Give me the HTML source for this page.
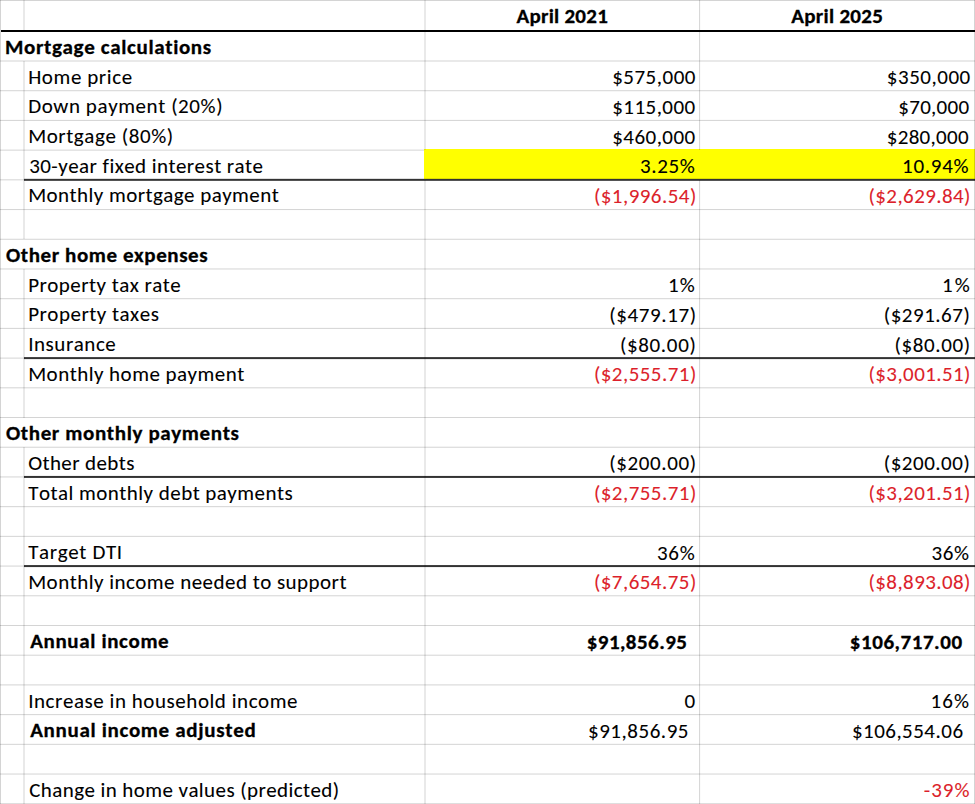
<!DOCTYPE html>
<html><head><meta charset="utf-8"><title>Mortgage calculations</title>
<style>
html,body{margin:0;padding:0;background:#fff;}
body{width:975px;height:804px;overflow:hidden;position:relative;font-family:"Carlito","Liberation Sans",sans-serif;font-size:21.00px;color:#000;}
.h{position:absolute;left:0;width:975px;height:1px;background:#d8d8d8;}
.v{position:absolute;width:1px;background:#d8d8d8;}
.b{position:absolute;height:1px;background:#1a1a1a;}
.t{position:absolute;white-space:nowrap;line-height:normal;font-variant-ligatures:none;font-kerning:none;-webkit-text-stroke:0.08px currentColor;}
.bd{font-weight:bold;-webkit-text-stroke:0.3px currentColor;}
.red{color:#dc1f2b;}
.y{position:absolute;background:#ffff00;}
</style></head><body>
<div class="y" style="left:424px;top:149px;width:551px;height:30px"></div>
<div style="position:absolute;left:0px;top:60px;width:975px;height:1px;background:rgba(0,0,0,0.085)"></div>
<div style="position:absolute;left:0px;top:61px;width:975px;height:1px;background:rgba(0,0,0,0.085)"></div>
<div style="position:absolute;left:0px;top:90px;width:975px;height:1px;background:rgba(0,0,0,0.134)"></div>
<div style="position:absolute;left:0px;top:91px;width:975px;height:1px;background:rgba(0,0,0,0.036)"></div>
<div style="position:absolute;left:0px;top:119px;width:975px;height:1px;background:rgba(0,0,0,0.014)"></div>
<div style="position:absolute;left:0px;top:120px;width:975px;height:1px;background:rgba(0,0,0,0.156)"></div>
<div style="position:absolute;left:0px;top:149px;width:424px;height:1px;background:rgba(0,0,0,0.063)"></div>
<div style="position:absolute;left:0px;top:150px;width:424px;height:1px;background:rgba(0,0,0,0.107)"></div>
<div style="position:absolute;left:0px;top:209px;width:975px;height:1px;background:rgba(0,0,0,0.161)"></div>
<div style="position:absolute;left:0px;top:210px;width:975px;height:1px;background:rgba(0,0,0,0.009)"></div>
<div style="position:absolute;left:0px;top:238px;width:975px;height:1px;background:rgba(0,0,0,0.041)"></div>
<div style="position:absolute;left:0px;top:239px;width:975px;height:1px;background:rgba(0,0,0,0.129)"></div>
<div style="position:absolute;left:0px;top:268px;width:975px;height:1px;background:rgba(0,0,0,0.090)"></div>
<div style="position:absolute;left:0px;top:269px;width:975px;height:1px;background:rgba(0,0,0,0.080)"></div>
<div style="position:absolute;left:0px;top:298px;width:975px;height:1px;background:rgba(0,0,0,0.139)"></div>
<div style="position:absolute;left:0px;top:299px;width:975px;height:1px;background:rgba(0,0,0,0.031)"></div>
<div style="position:absolute;left:0px;top:327px;width:975px;height:1px;background:rgba(0,0,0,0.019)"></div>
<div style="position:absolute;left:0px;top:328px;width:975px;height:1px;background:rgba(0,0,0,0.151)"></div>
<div style="position:absolute;left:0px;top:387px;width:975px;height:1px;background:rgba(0,0,0,0.117)"></div>
<div style="position:absolute;left:0px;top:388px;width:975px;height:1px;background:rgba(0,0,0,0.053)"></div>
<div style="position:absolute;left:0px;top:417px;width:975px;height:1px;background:rgba(0,0,0,0.167)"></div>
<div style="position:absolute;left:0px;top:446px;width:975px;height:1px;background:rgba(0,0,0,0.046)"></div>
<div style="position:absolute;left:0px;top:447px;width:975px;height:1px;background:rgba(0,0,0,0.124)"></div>
<div style="position:absolute;left:0px;top:506px;width:975px;height:1px;background:rgba(0,0,0,0.144)"></div>
<div style="position:absolute;left:0px;top:507px;width:975px;height:1px;background:rgba(0,0,0,0.026)"></div>
<div style="position:absolute;left:0px;top:535px;width:975px;height:1px;background:rgba(0,0,0,0.024)"></div>
<div style="position:absolute;left:0px;top:536px;width:975px;height:1px;background:rgba(0,0,0,0.146)"></div>
<div style="position:absolute;left:0px;top:595px;width:975px;height:1px;background:rgba(0,0,0,0.122)"></div>
<div style="position:absolute;left:0px;top:596px;width:975px;height:1px;background:rgba(0,0,0,0.048)"></div>
<div style="position:absolute;left:0px;top:625px;width:975px;height:1px;background:rgba(0,0,0,0.168)"></div>
<div style="position:absolute;left:0px;top:654px;width:975px;height:1px;background:rgba(0,0,0,0.051)"></div>
<div style="position:absolute;left:0px;top:655px;width:975px;height:1px;background:rgba(0,0,0,0.119)"></div>
<div style="position:absolute;left:0px;top:684px;width:975px;height:1px;background:rgba(0,0,0,0.100)"></div>
<div style="position:absolute;left:0px;top:685px;width:975px;height:1px;background:rgba(0,0,0,0.070)"></div>
<div style="position:absolute;left:0px;top:714px;width:975px;height:1px;background:rgba(0,0,0,0.150)"></div>
<div style="position:absolute;left:0px;top:715px;width:975px;height:1px;background:rgba(0,0,0,0.020)"></div>
<div style="position:absolute;left:0px;top:743px;width:975px;height:1px;background:rgba(0,0,0,0.029)"></div>
<div style="position:absolute;left:0px;top:744px;width:975px;height:1px;background:rgba(0,0,0,0.141)"></div>
<div style="position:absolute;left:0px;top:773px;width:975px;height:1px;background:rgba(0,0,0,0.078)"></div>
<div style="position:absolute;left:0px;top:774px;width:975px;height:1px;background:rgba(0,0,0,0.092)"></div>
<div style="position:absolute;left:0px;top:803px;width:975px;height:1px;background:rgba(0,0,0,0.128)"></div>
<div style="position:absolute;left:0px;top:804px;width:975px;height:1px;background:rgba(0,0,0,0.043)"></div>
<div style="position:absolute;left:0px;top:0px;width:975px;height:1px;background:rgba(0,0,0,0.170)"></div>
<div style="position:absolute;left:0px;top:476px;width:24px;height:1px;background:rgba(0,0,0,0.095)"></div>
<div style="position:absolute;left:0px;top:477px;width:24px;height:1px;background:rgba(0,0,0,0.075)"></div>
<div style="position:absolute;left:24px;top:475px;width:951px;height:1px;background:rgba(0,0,0,0.048)"></div>
<div style="position:absolute;left:24px;top:476px;width:951px;height:1px;background:rgba(0,0,0,0.800)"></div>
<div style="position:absolute;left:24px;top:477px;width:951px;height:1px;background:rgba(0,0,0,0.752)"></div>
<div style="position:absolute;left:0px;top:565px;width:24px;height:1px;background:rgba(0,0,0,0.073)"></div>
<div style="position:absolute;left:0px;top:566px;width:24px;height:1px;background:rgba(0,0,0,0.097)"></div>
<div style="position:absolute;left:24px;top:565px;width:951px;height:1px;background:rgba(0,0,0,0.744)"></div>
<div style="position:absolute;left:24px;top:566px;width:951px;height:1px;background:rgba(0,0,0,0.800)"></div>
<div style="position:absolute;left:24px;top:567px;width:951px;height:1px;background:rgba(0,0,0,0.056)"></div>
<div style="position:absolute;left:0px;top:357px;width:24px;height:1px;background:rgba(0,0,0,0.068)"></div>
<div style="position:absolute;left:0px;top:358px;width:24px;height:1px;background:rgba(0,0,0,0.102)"></div>
<div style="position:absolute;left:24px;top:357px;width:951px;height:1px;background:rgba(0,0,0,0.720)"></div>
<div style="position:absolute;left:24px;top:358px;width:951px;height:1px;background:rgba(0,0,0,0.800)"></div>
<div style="position:absolute;left:24px;top:359px;width:951px;height:1px;background:rgba(0,0,0,0.080)"></div>
<div style="position:absolute;left:0px;top:179px;width:24px;height:1px;background:rgba(0,0,0,0.112)"></div>
<div style="position:absolute;left:0px;top:180px;width:24px;height:1px;background:rgba(0,0,0,0.058)"></div>
<div style="position:absolute;left:24px;top:178px;width:951px;height:1px;background:rgba(0,0,0,0.128)"></div>
<div style="position:absolute;left:24px;top:179px;width:951px;height:1px;background:rgba(0,0,0,0.800)"></div>
<div style="position:absolute;left:24px;top:180px;width:951px;height:1px;background:rgba(0,0,0,0.672)"></div>
<div style="position:absolute;left:0px;top:0px;width:1px;height:804px;background:rgba(0,0,0,0.170)"></div>
<div style="position:absolute;left:974px;top:0px;width:1px;height:804px;background:rgba(0,0,0,0.170)"></div>
<div style="position:absolute;left:23px;top:0px;width:1px;height:30px;background:rgba(0,0,0,0.085)"></div>
<div style="position:absolute;left:24px;top:0px;width:1px;height:30px;background:rgba(0,0,0,0.085)"></div>
<div style="position:absolute;left:424px;top:0px;width:1px;height:30px;background:rgba(0,0,0,0.085)"></div>
<div style="position:absolute;left:425px;top:0px;width:1px;height:30px;background:rgba(0,0,0,0.085)"></div>
<div style="position:absolute;left:699px;top:0px;width:1px;height:30px;background:rgba(0,0,0,0.153)"></div>
<div style="position:absolute;left:700px;top:0px;width:1px;height:30px;background:rgba(0,0,0,0.017)"></div>
<div style="position:absolute;left:424px;top:32px;width:1px;height:29px;background:rgba(0,0,0,0.085)"></div>
<div style="position:absolute;left:425px;top:32px;width:1px;height:29px;background:rgba(0,0,0,0.085)"></div>
<div style="position:absolute;left:699px;top:32px;width:1px;height:29px;background:rgba(0,0,0,0.153)"></div>
<div style="position:absolute;left:700px;top:32px;width:1px;height:29px;background:rgba(0,0,0,0.017)"></div>
<div style="position:absolute;left:23px;top:61px;width:1px;height:30px;background:rgba(0,0,0,0.085)"></div>
<div style="position:absolute;left:24px;top:61px;width:1px;height:30px;background:rgba(0,0,0,0.085)"></div>
<div style="position:absolute;left:424px;top:61px;width:1px;height:30px;background:rgba(0,0,0,0.085)"></div>
<div style="position:absolute;left:425px;top:61px;width:1px;height:30px;background:rgba(0,0,0,0.085)"></div>
<div style="position:absolute;left:699px;top:61px;width:1px;height:30px;background:rgba(0,0,0,0.153)"></div>
<div style="position:absolute;left:700px;top:61px;width:1px;height:30px;background:rgba(0,0,0,0.017)"></div>
<div style="position:absolute;left:23px;top:91px;width:1px;height:29px;background:rgba(0,0,0,0.085)"></div>
<div style="position:absolute;left:24px;top:91px;width:1px;height:29px;background:rgba(0,0,0,0.085)"></div>
<div style="position:absolute;left:424px;top:91px;width:1px;height:29px;background:rgba(0,0,0,0.085)"></div>
<div style="position:absolute;left:425px;top:91px;width:1px;height:29px;background:rgba(0,0,0,0.085)"></div>
<div style="position:absolute;left:699px;top:91px;width:1px;height:29px;background:rgba(0,0,0,0.153)"></div>
<div style="position:absolute;left:700px;top:91px;width:1px;height:29px;background:rgba(0,0,0,0.017)"></div>
<div style="position:absolute;left:23px;top:120px;width:1px;height:30px;background:rgba(0,0,0,0.085)"></div>
<div style="position:absolute;left:24px;top:120px;width:1px;height:30px;background:rgba(0,0,0,0.085)"></div>
<div style="position:absolute;left:424px;top:120px;width:1px;height:30px;background:rgba(0,0,0,0.085)"></div>
<div style="position:absolute;left:425px;top:120px;width:1px;height:30px;background:rgba(0,0,0,0.085)"></div>
<div style="position:absolute;left:699px;top:120px;width:1px;height:30px;background:rgba(0,0,0,0.153)"></div>
<div style="position:absolute;left:700px;top:120px;width:1px;height:30px;background:rgba(0,0,0,0.017)"></div>
<div style="position:absolute;left:23px;top:150px;width:1px;height:30px;background:rgba(0,0,0,0.085)"></div>
<div style="position:absolute;left:24px;top:150px;width:1px;height:30px;background:rgba(0,0,0,0.085)"></div>
<div style="position:absolute;left:23px;top:180px;width:1px;height:30px;background:rgba(0,0,0,0.085)"></div>
<div style="position:absolute;left:24px;top:180px;width:1px;height:30px;background:rgba(0,0,0,0.085)"></div>
<div style="position:absolute;left:424px;top:180px;width:1px;height:30px;background:rgba(0,0,0,0.085)"></div>
<div style="position:absolute;left:425px;top:180px;width:1px;height:30px;background:rgba(0,0,0,0.085)"></div>
<div style="position:absolute;left:699px;top:180px;width:1px;height:30px;background:rgba(0,0,0,0.153)"></div>
<div style="position:absolute;left:700px;top:180px;width:1px;height:30px;background:rgba(0,0,0,0.017)"></div>
<div style="position:absolute;left:23px;top:210px;width:1px;height:29px;background:rgba(0,0,0,0.085)"></div>
<div style="position:absolute;left:24px;top:210px;width:1px;height:29px;background:rgba(0,0,0,0.085)"></div>
<div style="position:absolute;left:424px;top:210px;width:1px;height:29px;background:rgba(0,0,0,0.085)"></div>
<div style="position:absolute;left:425px;top:210px;width:1px;height:29px;background:rgba(0,0,0,0.085)"></div>
<div style="position:absolute;left:699px;top:210px;width:1px;height:29px;background:rgba(0,0,0,0.153)"></div>
<div style="position:absolute;left:700px;top:210px;width:1px;height:29px;background:rgba(0,0,0,0.017)"></div>
<div style="position:absolute;left:424px;top:239px;width:1px;height:30px;background:rgba(0,0,0,0.085)"></div>
<div style="position:absolute;left:425px;top:239px;width:1px;height:30px;background:rgba(0,0,0,0.085)"></div>
<div style="position:absolute;left:699px;top:239px;width:1px;height:30px;background:rgba(0,0,0,0.153)"></div>
<div style="position:absolute;left:700px;top:239px;width:1px;height:30px;background:rgba(0,0,0,0.017)"></div>
<div style="position:absolute;left:23px;top:269px;width:1px;height:30px;background:rgba(0,0,0,0.085)"></div>
<div style="position:absolute;left:24px;top:269px;width:1px;height:30px;background:rgba(0,0,0,0.085)"></div>
<div style="position:absolute;left:424px;top:269px;width:1px;height:30px;background:rgba(0,0,0,0.085)"></div>
<div style="position:absolute;left:425px;top:269px;width:1px;height:30px;background:rgba(0,0,0,0.085)"></div>
<div style="position:absolute;left:699px;top:269px;width:1px;height:30px;background:rgba(0,0,0,0.153)"></div>
<div style="position:absolute;left:700px;top:269px;width:1px;height:30px;background:rgba(0,0,0,0.017)"></div>
<div style="position:absolute;left:23px;top:299px;width:1px;height:29px;background:rgba(0,0,0,0.085)"></div>
<div style="position:absolute;left:24px;top:299px;width:1px;height:29px;background:rgba(0,0,0,0.085)"></div>
<div style="position:absolute;left:424px;top:299px;width:1px;height:29px;background:rgba(0,0,0,0.085)"></div>
<div style="position:absolute;left:425px;top:299px;width:1px;height:29px;background:rgba(0,0,0,0.085)"></div>
<div style="position:absolute;left:699px;top:299px;width:1px;height:29px;background:rgba(0,0,0,0.153)"></div>
<div style="position:absolute;left:700px;top:299px;width:1px;height:29px;background:rgba(0,0,0,0.017)"></div>
<div style="position:absolute;left:23px;top:328px;width:1px;height:30px;background:rgba(0,0,0,0.085)"></div>
<div style="position:absolute;left:24px;top:328px;width:1px;height:30px;background:rgba(0,0,0,0.085)"></div>
<div style="position:absolute;left:424px;top:328px;width:1px;height:30px;background:rgba(0,0,0,0.085)"></div>
<div style="position:absolute;left:425px;top:328px;width:1px;height:30px;background:rgba(0,0,0,0.085)"></div>
<div style="position:absolute;left:699px;top:328px;width:1px;height:30px;background:rgba(0,0,0,0.153)"></div>
<div style="position:absolute;left:700px;top:328px;width:1px;height:30px;background:rgba(0,0,0,0.017)"></div>
<div style="position:absolute;left:23px;top:358px;width:1px;height:30px;background:rgba(0,0,0,0.085)"></div>
<div style="position:absolute;left:24px;top:358px;width:1px;height:30px;background:rgba(0,0,0,0.085)"></div>
<div style="position:absolute;left:424px;top:358px;width:1px;height:30px;background:rgba(0,0,0,0.085)"></div>
<div style="position:absolute;left:425px;top:358px;width:1px;height:30px;background:rgba(0,0,0,0.085)"></div>
<div style="position:absolute;left:699px;top:358px;width:1px;height:30px;background:rgba(0,0,0,0.153)"></div>
<div style="position:absolute;left:700px;top:358px;width:1px;height:30px;background:rgba(0,0,0,0.017)"></div>
<div style="position:absolute;left:23px;top:388px;width:1px;height:30px;background:rgba(0,0,0,0.085)"></div>
<div style="position:absolute;left:24px;top:388px;width:1px;height:30px;background:rgba(0,0,0,0.085)"></div>
<div style="position:absolute;left:424px;top:388px;width:1px;height:30px;background:rgba(0,0,0,0.085)"></div>
<div style="position:absolute;left:425px;top:388px;width:1px;height:30px;background:rgba(0,0,0,0.085)"></div>
<div style="position:absolute;left:699px;top:388px;width:1px;height:30px;background:rgba(0,0,0,0.153)"></div>
<div style="position:absolute;left:700px;top:388px;width:1px;height:30px;background:rgba(0,0,0,0.017)"></div>
<div style="position:absolute;left:424px;top:418px;width:1px;height:29px;background:rgba(0,0,0,0.085)"></div>
<div style="position:absolute;left:425px;top:418px;width:1px;height:29px;background:rgba(0,0,0,0.085)"></div>
<div style="position:absolute;left:699px;top:418px;width:1px;height:29px;background:rgba(0,0,0,0.153)"></div>
<div style="position:absolute;left:700px;top:418px;width:1px;height:29px;background:rgba(0,0,0,0.017)"></div>
<div style="position:absolute;left:23px;top:447px;width:1px;height:30px;background:rgba(0,0,0,0.085)"></div>
<div style="position:absolute;left:24px;top:447px;width:1px;height:30px;background:rgba(0,0,0,0.085)"></div>
<div style="position:absolute;left:424px;top:447px;width:1px;height:30px;background:rgba(0,0,0,0.085)"></div>
<div style="position:absolute;left:425px;top:447px;width:1px;height:30px;background:rgba(0,0,0,0.085)"></div>
<div style="position:absolute;left:699px;top:447px;width:1px;height:30px;background:rgba(0,0,0,0.153)"></div>
<div style="position:absolute;left:700px;top:447px;width:1px;height:30px;background:rgba(0,0,0,0.017)"></div>
<div style="position:absolute;left:23px;top:477px;width:1px;height:30px;background:rgba(0,0,0,0.085)"></div>
<div style="position:absolute;left:24px;top:477px;width:1px;height:30px;background:rgba(0,0,0,0.085)"></div>
<div style="position:absolute;left:424px;top:477px;width:1px;height:30px;background:rgba(0,0,0,0.085)"></div>
<div style="position:absolute;left:425px;top:477px;width:1px;height:30px;background:rgba(0,0,0,0.085)"></div>
<div style="position:absolute;left:699px;top:477px;width:1px;height:30px;background:rgba(0,0,0,0.153)"></div>
<div style="position:absolute;left:700px;top:477px;width:1px;height:30px;background:rgba(0,0,0,0.017)"></div>
<div style="position:absolute;left:23px;top:507px;width:1px;height:29px;background:rgba(0,0,0,0.085)"></div>
<div style="position:absolute;left:24px;top:507px;width:1px;height:29px;background:rgba(0,0,0,0.085)"></div>
<div style="position:absolute;left:424px;top:507px;width:1px;height:29px;background:rgba(0,0,0,0.085)"></div>
<div style="position:absolute;left:425px;top:507px;width:1px;height:29px;background:rgba(0,0,0,0.085)"></div>
<div style="position:absolute;left:699px;top:507px;width:1px;height:29px;background:rgba(0,0,0,0.153)"></div>
<div style="position:absolute;left:700px;top:507px;width:1px;height:29px;background:rgba(0,0,0,0.017)"></div>
<div style="position:absolute;left:23px;top:536px;width:1px;height:30px;background:rgba(0,0,0,0.085)"></div>
<div style="position:absolute;left:24px;top:536px;width:1px;height:30px;background:rgba(0,0,0,0.085)"></div>
<div style="position:absolute;left:424px;top:536px;width:1px;height:30px;background:rgba(0,0,0,0.085)"></div>
<div style="position:absolute;left:425px;top:536px;width:1px;height:30px;background:rgba(0,0,0,0.085)"></div>
<div style="position:absolute;left:699px;top:536px;width:1px;height:30px;background:rgba(0,0,0,0.153)"></div>
<div style="position:absolute;left:700px;top:536px;width:1px;height:30px;background:rgba(0,0,0,0.017)"></div>
<div style="position:absolute;left:23px;top:566px;width:1px;height:30px;background:rgba(0,0,0,0.085)"></div>
<div style="position:absolute;left:24px;top:566px;width:1px;height:30px;background:rgba(0,0,0,0.085)"></div>
<div style="position:absolute;left:424px;top:566px;width:1px;height:30px;background:rgba(0,0,0,0.085)"></div>
<div style="position:absolute;left:425px;top:566px;width:1px;height:30px;background:rgba(0,0,0,0.085)"></div>
<div style="position:absolute;left:699px;top:566px;width:1px;height:30px;background:rgba(0,0,0,0.153)"></div>
<div style="position:absolute;left:700px;top:566px;width:1px;height:30px;background:rgba(0,0,0,0.017)"></div>
<div style="position:absolute;left:23px;top:596px;width:1px;height:29px;background:rgba(0,0,0,0.085)"></div>
<div style="position:absolute;left:24px;top:596px;width:1px;height:29px;background:rgba(0,0,0,0.085)"></div>
<div style="position:absolute;left:424px;top:596px;width:1px;height:29px;background:rgba(0,0,0,0.085)"></div>
<div style="position:absolute;left:425px;top:596px;width:1px;height:29px;background:rgba(0,0,0,0.085)"></div>
<div style="position:absolute;left:699px;top:596px;width:1px;height:29px;background:rgba(0,0,0,0.153)"></div>
<div style="position:absolute;left:700px;top:596px;width:1px;height:29px;background:rgba(0,0,0,0.017)"></div>
<div style="position:absolute;left:23px;top:625px;width:1px;height:30px;background:rgba(0,0,0,0.085)"></div>
<div style="position:absolute;left:24px;top:625px;width:1px;height:30px;background:rgba(0,0,0,0.085)"></div>
<div style="position:absolute;left:424px;top:625px;width:1px;height:30px;background:rgba(0,0,0,0.085)"></div>
<div style="position:absolute;left:425px;top:625px;width:1px;height:30px;background:rgba(0,0,0,0.085)"></div>
<div style="position:absolute;left:699px;top:625px;width:1px;height:30px;background:rgba(0,0,0,0.153)"></div>
<div style="position:absolute;left:700px;top:625px;width:1px;height:30px;background:rgba(0,0,0,0.017)"></div>
<div style="position:absolute;left:23px;top:655px;width:1px;height:30px;background:rgba(0,0,0,0.085)"></div>
<div style="position:absolute;left:24px;top:655px;width:1px;height:30px;background:rgba(0,0,0,0.085)"></div>
<div style="position:absolute;left:424px;top:655px;width:1px;height:30px;background:rgba(0,0,0,0.085)"></div>
<div style="position:absolute;left:425px;top:655px;width:1px;height:30px;background:rgba(0,0,0,0.085)"></div>
<div style="position:absolute;left:699px;top:655px;width:1px;height:30px;background:rgba(0,0,0,0.153)"></div>
<div style="position:absolute;left:700px;top:655px;width:1px;height:30px;background:rgba(0,0,0,0.017)"></div>
<div style="position:absolute;left:23px;top:685px;width:1px;height:30px;background:rgba(0,0,0,0.085)"></div>
<div style="position:absolute;left:24px;top:685px;width:1px;height:30px;background:rgba(0,0,0,0.085)"></div>
<div style="position:absolute;left:424px;top:685px;width:1px;height:30px;background:rgba(0,0,0,0.085)"></div>
<div style="position:absolute;left:425px;top:685px;width:1px;height:30px;background:rgba(0,0,0,0.085)"></div>
<div style="position:absolute;left:699px;top:685px;width:1px;height:30px;background:rgba(0,0,0,0.153)"></div>
<div style="position:absolute;left:700px;top:685px;width:1px;height:30px;background:rgba(0,0,0,0.017)"></div>
<div style="position:absolute;left:23px;top:715px;width:1px;height:29px;background:rgba(0,0,0,0.085)"></div>
<div style="position:absolute;left:24px;top:715px;width:1px;height:29px;background:rgba(0,0,0,0.085)"></div>
<div style="position:absolute;left:424px;top:715px;width:1px;height:29px;background:rgba(0,0,0,0.085)"></div>
<div style="position:absolute;left:425px;top:715px;width:1px;height:29px;background:rgba(0,0,0,0.085)"></div>
<div style="position:absolute;left:699px;top:715px;width:1px;height:29px;background:rgba(0,0,0,0.153)"></div>
<div style="position:absolute;left:700px;top:715px;width:1px;height:29px;background:rgba(0,0,0,0.017)"></div>
<div style="position:absolute;left:23px;top:744px;width:1px;height:30px;background:rgba(0,0,0,0.085)"></div>
<div style="position:absolute;left:24px;top:744px;width:1px;height:30px;background:rgba(0,0,0,0.085)"></div>
<div style="position:absolute;left:424px;top:744px;width:1px;height:30px;background:rgba(0,0,0,0.085)"></div>
<div style="position:absolute;left:425px;top:744px;width:1px;height:30px;background:rgba(0,0,0,0.085)"></div>
<div style="position:absolute;left:699px;top:744px;width:1px;height:30px;background:rgba(0,0,0,0.153)"></div>
<div style="position:absolute;left:700px;top:744px;width:1px;height:30px;background:rgba(0,0,0,0.017)"></div>
<div style="position:absolute;left:23px;top:774px;width:1px;height:30px;background:rgba(0,0,0,0.085)"></div>
<div style="position:absolute;left:24px;top:774px;width:1px;height:30px;background:rgba(0,0,0,0.085)"></div>
<div style="position:absolute;left:424px;top:774px;width:1px;height:30px;background:rgba(0,0,0,0.085)"></div>
<div style="position:absolute;left:425px;top:774px;width:1px;height:30px;background:rgba(0,0,0,0.085)"></div>
<div style="position:absolute;left:699px;top:774px;width:1px;height:30px;background:rgba(0,0,0,0.153)"></div>
<div style="position:absolute;left:700px;top:774px;width:1px;height:30px;background:rgba(0,0,0,0.017)"></div>
<div style="position:absolute;left:1px;top:30px;width:974px;height:2px;background:#000"></div>
<div class="t bd" style="left:516.50px;top:3.00px;letter-spacing:0.243px">April 2021</div>
<div class="t bd" style="left:791.30px;top:3.00px;letter-spacing:0.272px">April 2025</div>
<div class="t bd" style="left:5.00px;top:33.90px;letter-spacing:0.645px">Mortgage calculations</div>
<div class="t" style="left:28.20px;top:63.61px;letter-spacing:0.586px">Home price</div>
<div class="t" style="left:612.20px;top:64.21px;letter-spacing:0.502px">$575,000</div>
<div class="t" style="left:886.80px;top:64.21px;letter-spacing:0.525px">$350,000</div>
<div class="t" style="left:28.20px;top:93.32px;letter-spacing:0.580px">Down payment (20%)</div>
<div class="t" style="left:612.20px;top:93.92px;letter-spacing:0.474px">$115,000</div>
<div class="t" style="left:898.30px;top:93.92px;letter-spacing:0.287px">$70,000</div>
<div class="t" style="left:28.20px;top:123.03px;letter-spacing:0.575px">Mortgage (80%)</div>
<div class="t" style="left:612.20px;top:123.63px;letter-spacing:0.474px">$460,000</div>
<div class="t" style="left:886.80px;top:123.63px;letter-spacing:0.283px">$280,000</div>
<div class="t" style="left:29.20px;top:152.74px;letter-spacing:0.443px">30-year fixed interest rate</div>
<div class="t" style="left:639.90px;top:153.34px;letter-spacing:0.650px">3.25%</div>
<div class="t" style="left:902.00px;top:153.34px;letter-spacing:0.740px">10.94%</div>
<div class="t" style="left:28.20px;top:182.45px;letter-spacing:0.445px">Monthly mortgage payment</div>
<div class="t red" style="left:593.90px;top:183.05px;letter-spacing:0.460px">($1,996.54)</div>
<div class="t red" style="left:868.50px;top:183.05px;letter-spacing:0.420px">($2,629.84)</div>
<div class="t bd" style="left:6.00px;top:241.87px;letter-spacing:0.583px">Other home expenses</div>
<div class="t" style="left:28.20px;top:271.58px;letter-spacing:0.464px">Property tax rate</div>
<div class="t" style="left:668.10px;top:272.18px;letter-spacing:1.000px">1%</div>
<div class="t" style="left:942.10px;top:272.18px;letter-spacing:2.000px">1%</div>
<div class="t" style="left:28.20px;top:301.29px;letter-spacing:0.499px">Property taxes</div>
<div class="t" style="left:609.20px;top:301.89px;letter-spacing:0.637px">($479.17)</div>
<div class="t" style="left:883.80px;top:301.89px;letter-spacing:0.513px">($291.67)</div>
<div class="t" style="left:28.20px;top:331.00px;letter-spacing:0.535px">Insurance</div>
<div class="t" style="left:619.90px;top:331.60px;letter-spacing:0.666px">($80.00)</div>
<div class="t" style="left:894.50px;top:331.60px;letter-spacing:0.608px">($80.00)</div>
<div class="t" style="left:28.20px;top:360.71px;letter-spacing:0.464px">Monthly home payment</div>
<div class="t red" style="left:593.90px;top:361.31px;letter-spacing:0.460px">($2,555.71)</div>
<div class="t red" style="left:868.50px;top:361.31px;letter-spacing:0.420px">($3,001.51)</div>
<div class="t bd" style="left:6.00px;top:420.13px;letter-spacing:0.629px">Other monthly payments</div>
<div class="t" style="left:28.20px;top:449.84px;letter-spacing:0.400px">Other debts</div>
<div class="t" style="left:609.20px;top:450.44px;letter-spacing:0.637px">($200.00)</div>
<div class="t" style="left:883.80px;top:450.44px;letter-spacing:0.513px">($200.00)</div>
<div class="t" style="left:28.20px;top:479.55px;letter-spacing:0.467px">Total monthly debt payments</div>
<div class="t red" style="left:593.90px;top:480.15px;letter-spacing:0.460px">($2,755.71)</div>
<div class="t red" style="left:868.50px;top:480.15px;letter-spacing:0.420px">($3,201.51)</div>
<div class="t" style="left:28.20px;top:538.97px;letter-spacing:0.643px">Target DTI</div>
<div class="t" style="left:656.90px;top:539.57px;letter-spacing:0.800px">36%</div>
<div class="t" style="left:931.50px;top:539.57px;letter-spacing:0.600px">36%</div>
<div class="t" style="left:28.20px;top:568.68px;letter-spacing:0.467px">Monthly income needed to support</div>
<div class="t red" style="left:593.90px;top:569.28px;letter-spacing:0.460px">($7,654.75)</div>
<div class="t red" style="left:868.50px;top:569.28px;letter-spacing:0.420px">($8,893.08)</div>
<div class="t bd" style="left:30.20px;top:628.10px;letter-spacing:0.627px">Annual income</div>
<div class="t bd" style="left:586.70px;top:628.70px;letter-spacing:0.459px">$91,856.95</div>
<div class="t bd" style="left:849.80px;top:628.70px;letter-spacing:0.550px">$106,717.00</div>
<div class="t" style="left:28.20px;top:687.52px;letter-spacing:0.545px">Increase in household income</div>
<div class="t" style="left:684.50px;top:688.12px">0</div>
<div class="t" style="left:930.50px;top:688.12px;letter-spacing:1.100px">16%</div>
<div class="t bd" style="left:30.20px;top:717.23px;letter-spacing:0.668px">Annual income adjusted</div>
<div class="t" style="left:588.00px;top:717.83px;letter-spacing:0.535px">$91,856.95</div>
<div class="t" style="left:851.90px;top:717.83px;letter-spacing:0.480px">$106,554.06</div>
<div class="t" style="left:29.20px;top:776.65px;letter-spacing:0.414px">Change in home values (predicted)</div>
<div class="t red" style="left:923.80px;top:777.25px;letter-spacing:0.975px">-39%</div>
<script>(function(){var W=[91.5,91.8,206.8,104.5,83.8,84,194.9,83.5,71.1,145.5,83.5,82,234.3,55.5,67.3,251,102.8,102.4,202.2,153,27.7,29.7,131.2,87.6,86.5,88.1,76.6,76.1,216.5,102.8,102.4,233.6,106.7,87.6,86.5,265,102.8,102.4,94.6,38.7,38.1,318.7,102.8,102.4,139.1,100.8,112.9,269.9,10.7,39.6,226.2,101,111.6,310.3,46.6];var a=document.createElement("span"),b=document.createElement("span");a.style.cssText="position:absolute;visibility:hidden;font-size:40px;font-family:Carlito,monospace";b.style.cssText="position:absolute;visibility:hidden;font-size:40px;font-family:monospace";a.textContent=b.textContent="Mortgage calculations 0123456789";document.body.appendChild(a);document.body.appendChild(b);var m=Math.abs(a.offsetWidth-b.offsetWidth)<1;a.parentNode.removeChild(a);b.parentNode.removeChild(b);if(!m)return;var E=document.querySelectorAll(".t");for(var i=0;i<E.length&&i<W.length;i++){var e=E[i];e.style.letterSpacing="0px";var w=e.getBoundingClientRect().width;if(w>0){e.style.transformOrigin="0 0";e.style.transform="scaleX("+(W[i]/w).toFixed(4)+")";}}})();</script>
</body></html>
